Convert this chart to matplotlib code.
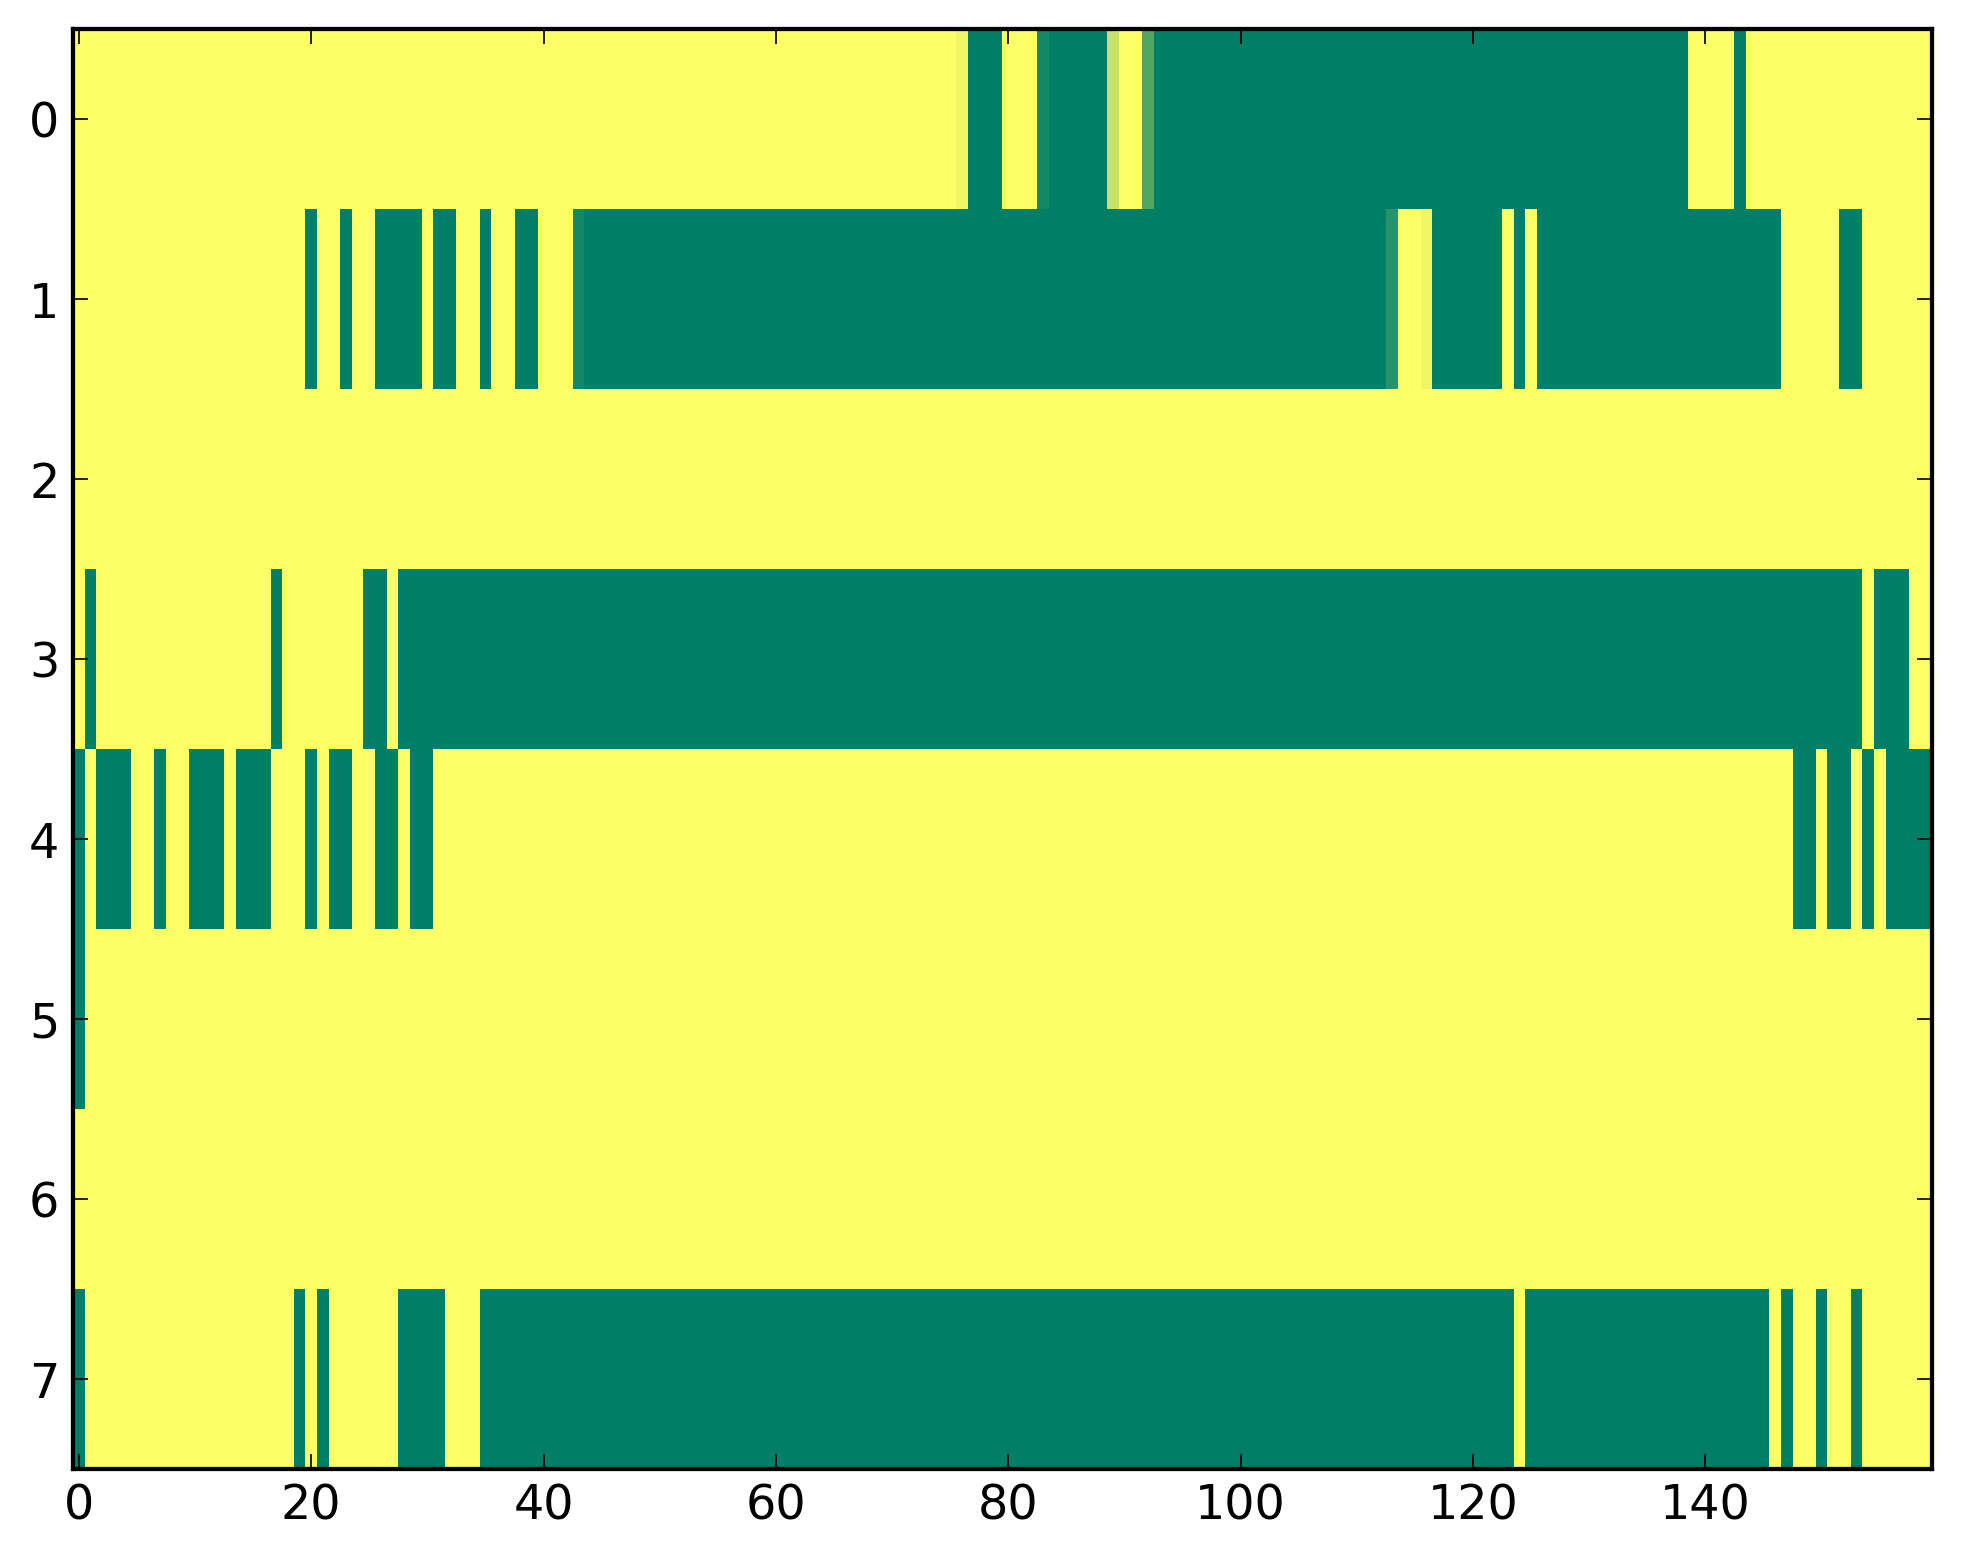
import numpy as np
import matplotlib
matplotlib.use("Agg")
import matplotlib.pyplot as plt

# Run-length encoded rows: (value, count); 1 = yellow, 0 = green
row0 = [(1, 76), (0.94, 1), (0, 3), (1, 3), (0.07, 1), (0, 5), (0.78, 1), (1, 2),
        (0.31, 1), (0, 46), (1, 4), (0, 1), (1, 16)]
row1 = [(1, 20), (0, 1), (1, 2), (0, 1), (1, 2), (0, 4), (1, 1), (0, 2), (1, 2),
        (0, 1), (1, 2), (0, 2), (1, 3), (0.07, 1), (0, 69), (0.16, 1), (1, 2),
        (0.93, 1), (0, 6), (1, 1), (0, 1), (1, 1), (0, 21), (1, 5), (0, 2), (1, 6)]
row2 = [(1, 160)]
row3 = [(1, 1), (0, 1), (1, 15), (0, 1), (1, 7), (0, 2), (1, 1), (0, 126), (1, 1),
        (0, 3), (1, 2)]
row4 = [(0, 1), (1, 1), (0, 3), (1, 2), (0, 1), (1, 2), (0, 3), (1, 1), (0, 3),
        (1, 3), (0, 1), (1, 1), (0, 2), (1, 2), (0, 2), (1, 1), (0, 2), (1, 117),
        (0, 2), (1, 1), (0, 2), (1, 1), (0, 1), (1, 1), (0, 4)]
row5 = [(0, 1), (1, 159)]
row6 = [(1, 160)]
row7 = [(0, 1), (1, 18), (0, 1), (1, 1), (0, 1), (1, 6), (0, 4), (1, 3), (0, 89),
        (1, 1), (0, 21), (1, 1), (0, 1), (1, 2), (0, 1), (1, 2), (0, 1), (1, 6)]

rows = [row0, row1, row2, row3, row4, row5, row6, row7]
xticks = [0, 20, 40, 60, 80, 100, 120, 140]
yticks = [0, 1, 2, 3, 4, 5, 6, 7]


def expand(runs):
    out = []
    for v, n in runs:
        out.extend([v] * n)
    return out


data = np.array([expand(r) for r in rows], dtype=float)

plt.rcParams['font.family'] = ['DejaVu Sans']
fig = plt.figure(figsize=(1963 / 245, 1564 / 245), dpi=245, facecolor='white')
ax = fig.add_axes([73 / 1963, (1564 - 1469) / 1564, 1859 / 1963, 1440 / 1564])
ax.imshow(data, cmap='summer', vmin=0, vmax=1, aspect='auto',
          interpolation='nearest')
ax.set_xticks(xticks)
ax.set_yticks(yticks)
ax.set_xlim(-0.5, data.shape[1] - 0.5)
ax.set_ylim(data.shape[0] - 0.5, -0.5)
ax.tick_params(direction='in', length=4.4, width=0.5, labelsize=14,
               top=True, right=True, pad=4)
for s in ax.spines.values():
    s.set_linewidth(1.25)

fig.savefig('out.png', dpi=245, facecolor='white')
